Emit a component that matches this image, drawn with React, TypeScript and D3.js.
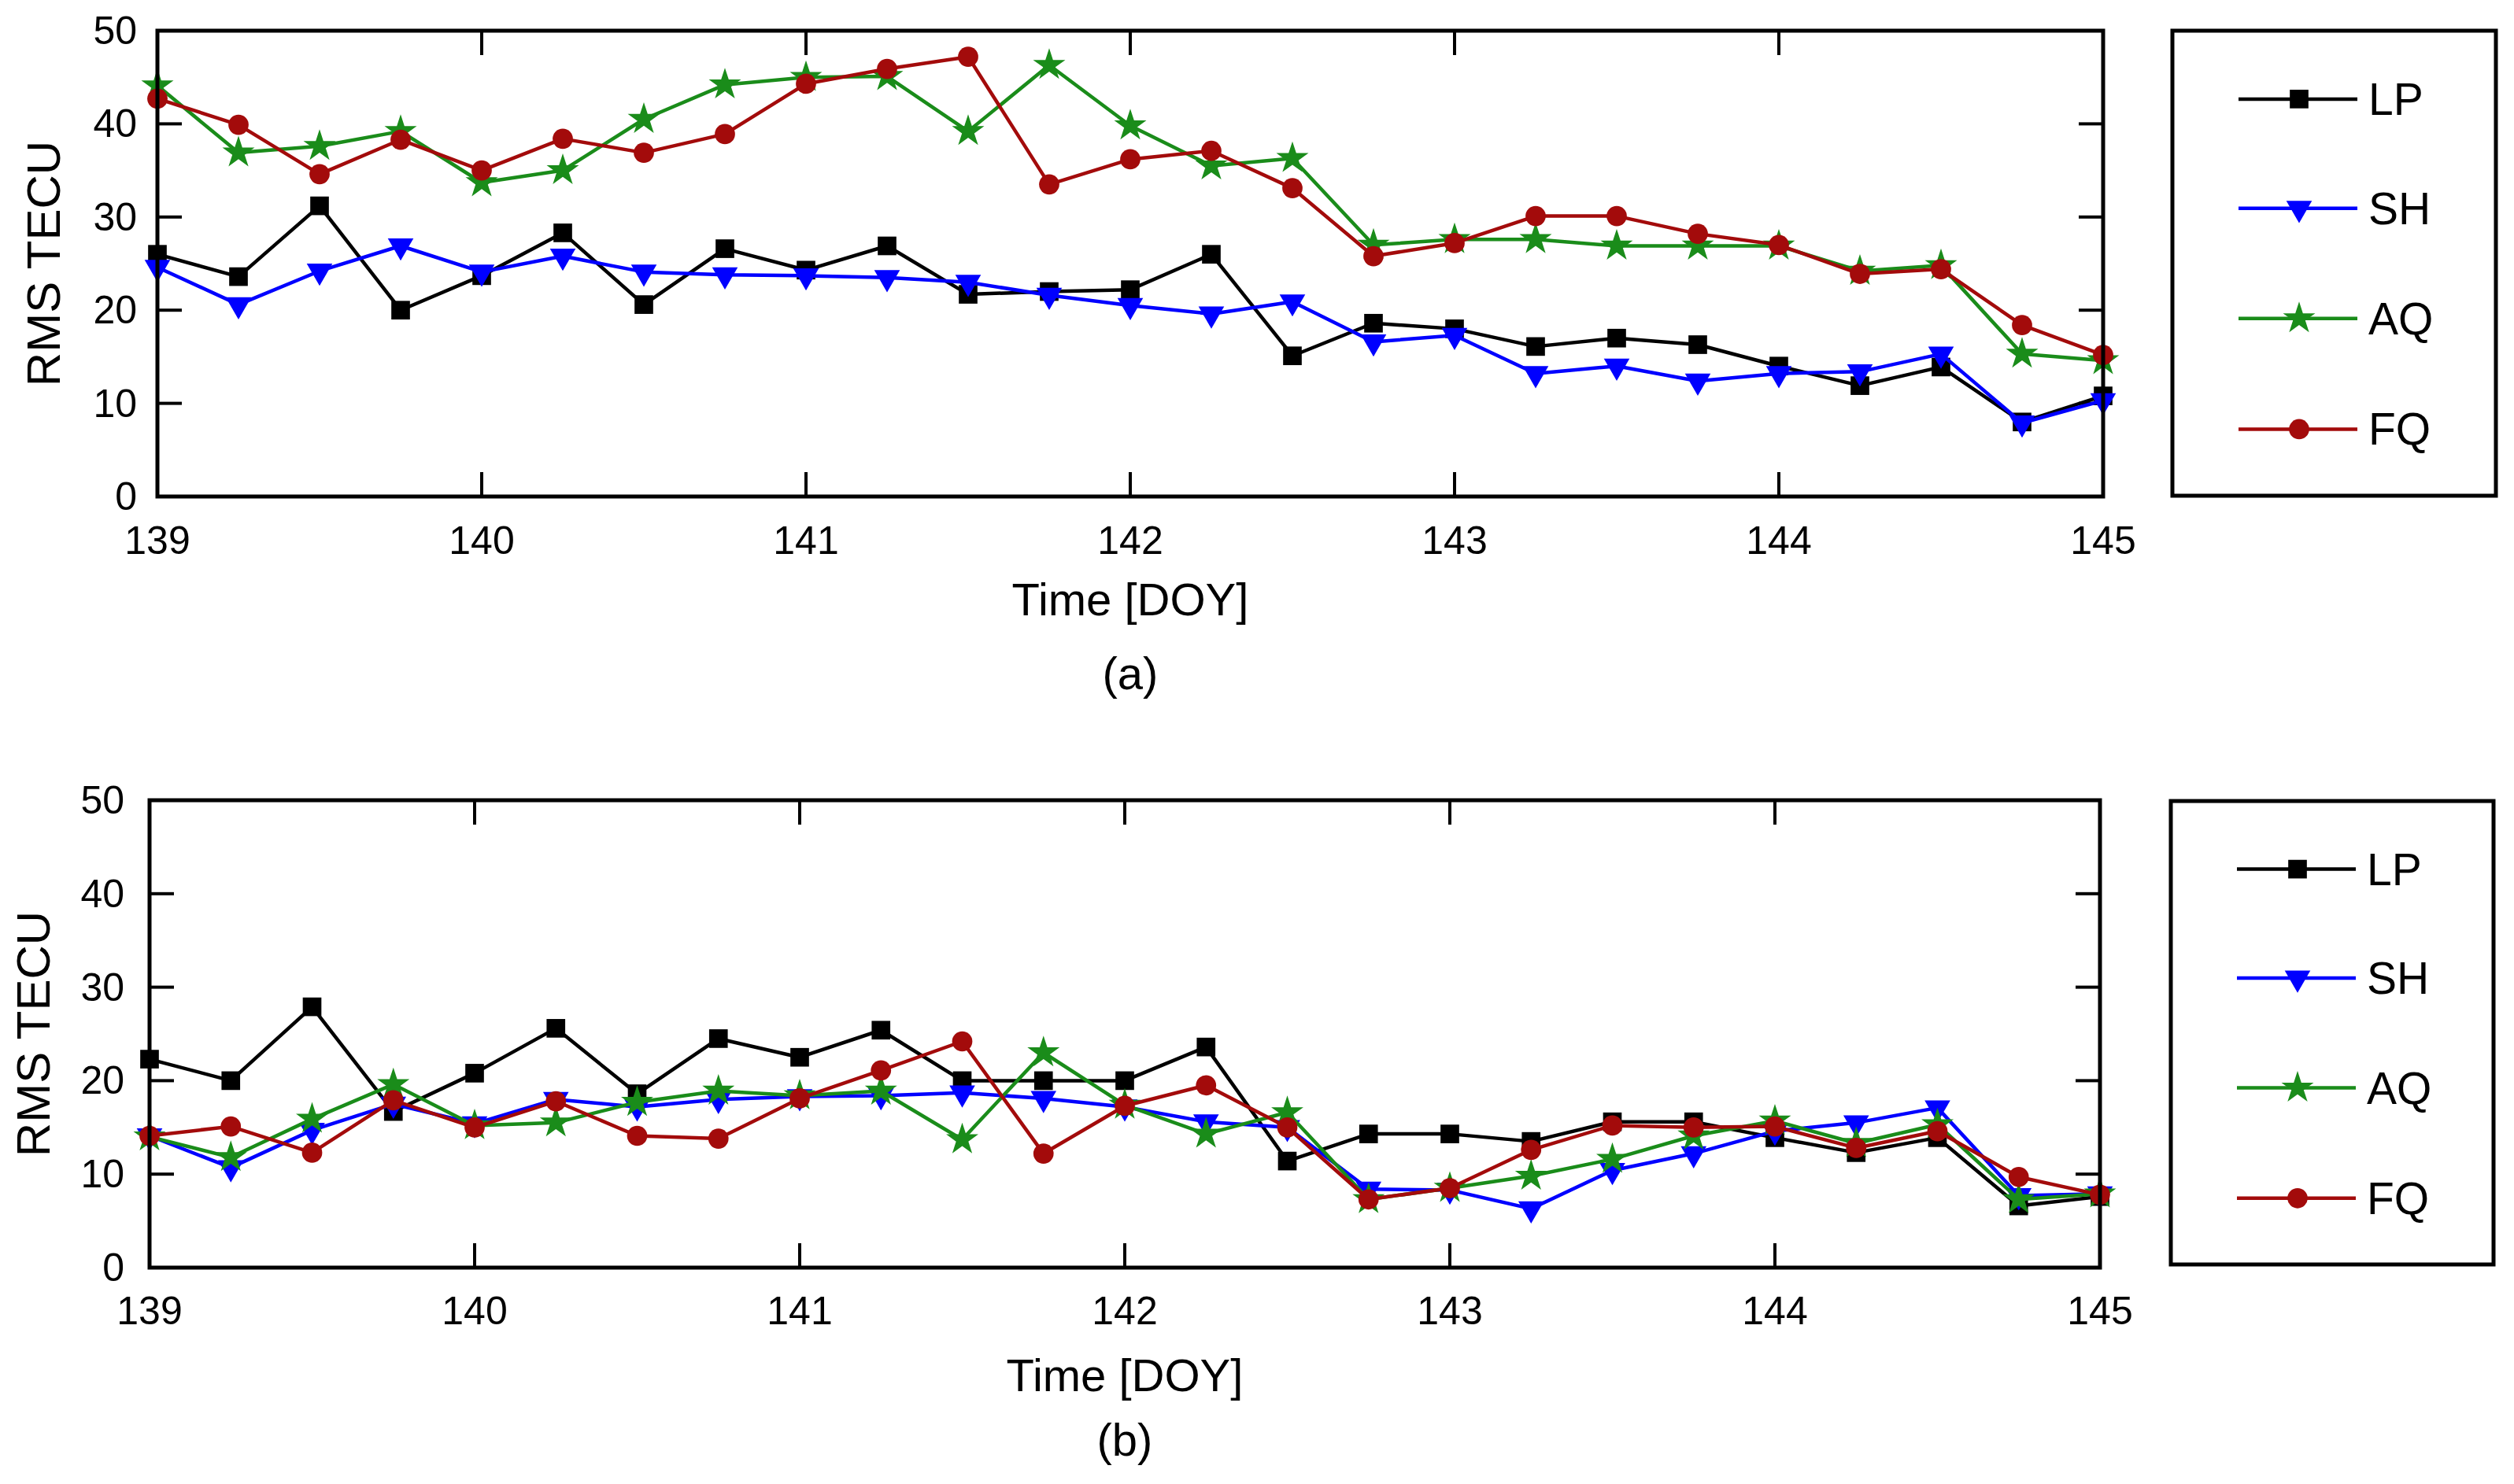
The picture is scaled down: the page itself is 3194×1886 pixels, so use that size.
import * as d3 from "d3";

// day of year, every 6 hours
const doy = [
  139, 139.25, 139.5, 139.75, 140, 140.25, 140.5, 140.75, 141, 141.25, 141.5, 141.75,
  142, 142.25, 142.5, 142.75, 143, 143.25, 143.5, 143.75, 144, 144.25, 144.5, 144.75, 145,
];
const xTicks = [139, 140, 141, 142, 143, 144, 145];
const yTicks = [0, 10, 20, 30, 40, 50];
const seriesNames = ["LP", "SH", "AQ", "FQ"];

// panel (a)
const lpA = [26.0, 23.6, 31.2, 20.0, 23.7, 28.3, 20.6, 26.6, 24.3, 26.9, 21.7, 22.0,
  22.2, 26.0, 15.1, 18.6, 18.0, 16.1, 17.0, 16.3, 14.0, 11.9, 13.9, 8.0, 10.8];
const shA = [24.6, 20.6, 24.2, 26.9, 24.1, 25.8, 24.1, 23.8, 23.7, 23.5, 23.0, 21.6,
  20.5, 19.6, 20.9, 16.6, 17.3, 13.2, 14.0, 12.4, 13.2, 13.4, 15.3, 7.9, 10.3];
const aqA = [44.1, 36.9, 37.6, 39.2, 33.7, 35.0, 40.5, 44.2, 45.0, 45.1, 39.2, 46.3,
  39.8, 35.5, 36.3, 27.0, 27.6, 27.6, 26.9, 26.9, 26.9, 24.2, 24.8, 15.3, 14.6];
const fqA = [42.7, 39.9, 34.6, 38.3, 35.0, 38.4, 36.9, 38.9, 44.3, 45.9, 47.2, 33.5,
  36.2, 37.1, 33.1, 25.8, 27.2, 30.1, 30.1, 28.2, 27.0, 23.9, 24.4, 18.4, 15.2];

// panel (b)
const lpB = [22.3, 20.0, 27.9, 16.7, 20.8, 25.6, 18.6, 24.5, 22.5, 25.4, 20.0, 20.0,
  20.0, 23.6, 11.4, 14.3, 14.3, 13.5, 15.6, 15.6, 13.9, 12.3, 13.9, 6.6, 7.6];
const shB = [14.1, 10.7, 14.7, 17.5, 15.4, 18.0, 17.2, 18.0, 18.3, 18.4, 18.7, 18.1,
  17.2, 15.6, 15.0, 8.4, 8.3, 6.3, 10.4, 12.2, 14.6, 15.5, 17.1, 7.7, 7.9];
const aqB = [14.0, 11.8, 15.9, 19.6, 15.2, 15.5, 17.7, 18.9, 18.4, 18.9, 13.7, 23.0,
  17.4, 14.3, 16.6, 7.3, 8.5, 9.8, 11.6, 14.1, 15.7, 13.3, 15.3, 7.3, 7.9];
const fqB = [14.1, 15.1, 12.3, 17.9, 15.0, 17.8, 14.1, 13.8, 18.1, 21.1, 24.2, 12.2,
  17.3, 19.5, 15.0, 7.3, 8.5, 12.6, 15.2, 15.0, 15.1, 12.8, 14.6, 9.7, 7.8];

const colors = ["#000000", "#0000ff", "#1a8c1a", "#a30b0b"];
const FONT = "'Liberation Sans', Arial, sans-serif";

const symbolFor = (i: number) => {
  if (i === 0) return d3.symbol(d3.symbolSquare, 560)();
  if (i === 1) return d3.symbol(d3.symbolTriangle, 460)();
  if (i === 2) return d3.symbol(d3.symbolStar, 520)();
  return d3.symbol(d3.symbolCircle, 520)();
};

type PanelProps = {
  series: number[][];
  left: number;
  right: number;
  top: number;
  bottom: number;
  legendX: [number, number];
  legendY: [number, number];
  ylabelX: number;
  yLabelGap: number;
  tickBase: number;
  titleBase: number;
  captionBase: number;
  caption: string;
};

function Panel(p: PanelProps) {
  const x = d3.scaleLinear().domain([139, 145]).range([p.left, p.right]);
  const y = d3.scaleLinear().domain([0, 50]).range([p.bottom, p.top]);
  const line = d3
    .line<number>()
    .x((_, i) => x(doy[i]))
    .y((d) => y(d));
  const tickLen = 31;
  const midX = (p.left + p.right) / 2;
  const midY = (p.top + p.bottom) / 2;
  const legH = p.legendY[1] - p.legendY[0];
  const legRows = [0.147, 0.382, 0.619, 0.857];

  return (
    <g fontFamily={FONT} fill="#000">
      {/* ticks */}
      {xTicks.slice(1, -1).map((t) => (
        <g key={"xt" + t} stroke="#000" strokeWidth={4}>
          <line x1={x(t)} x2={x(t)} y1={p.bottom} y2={p.bottom - tickLen} />
          <line x1={x(t)} x2={x(t)} y1={p.top} y2={p.top + tickLen} />
        </g>
      ))}
      {yTicks.slice(1, -1).map((t) => (
        <g key={"yt" + t} stroke="#000" strokeWidth={4}>
          <line x1={p.left} x2={p.left + tickLen} y1={y(t)} y2={y(t)} />
          <line x1={p.right} x2={p.right - tickLen} y1={y(t)} y2={y(t)} />
        </g>
      ))}
      {xTicks.map((t) => (
        <text key={"xl" + t} x={x(t)} y={p.tickBase} fontSize={50} textAnchor="middle">
          {t}
        </text>
      ))}
      {yTicks.map((t) => (
        <text
          key={"yl" + t}
          x={p.left - p.yLabelGap}
          y={y(t)}
          fontSize={50}
          textAnchor="end"
          dominantBaseline="central"
        >
          {t}
        </text>
      ))}
      <text x={midX} y={p.titleBase} fontSize={58} textAnchor="middle">
        Time [DOY]
      </text>
      <text x={midX} y={p.captionBase} fontSize={58} textAnchor="middle">
        {p.caption}
      </text>
      <text
        transform={`translate(${p.ylabelX},${midY}) rotate(-90)`}
        fontSize={60}
        textAnchor="middle"
        dominantBaseline="central"
      >
        RMS TECU
      </text>

      {/* series */}
      {p.series.map((vals, si) => (
        <g key={"s" + si}>
          <path d={line(vals) ?? ""} fill="none" stroke={colors[si]} strokeWidth={4.5} strokeLinejoin="round" />
          {vals.map((v, i) => (
            <path
              key={i}
              d={symbolFor(si) ?? ""}
              fill={colors[si]}
              transform={`translate(${x(doy[i])},${y(v)})${si === 1 ? " rotate(180)" : ""}`}
            />
          ))}
        </g>
      ))}

      {/* frame */}
      <rect
        x={p.left}
        y={p.top}
        width={p.right - p.left}
        height={p.bottom - p.top}
        fill="none"
        stroke="#000"
        strokeWidth={5}
      />

      {/* legend */}
      <rect
        x={p.legendX[0]}
        y={p.legendY[0]}
        width={p.legendX[1] - p.legendX[0]}
        height={legH}
        fill="none"
        stroke="#000"
        strokeWidth={5}
      />
      {seriesNames.map((name, si) => {
        const ly = p.legendY[0] + legRows[si] * legH;
        const lx = p.legendX[0];
        return (
          <g key={"lg" + name}>
            <line x1={lx + 84} x2={lx + 235} y1={ly} y2={ly} stroke={colors[si]} strokeWidth={4.5} />
            <path
              d={symbolFor(si) ?? ""}
              fill={colors[si]}
              transform={`translate(${lx + 161},${ly})${si === 1 ? " rotate(180)" : ""}`}
            />
            <text x={lx + 249} y={ly} fontSize={57} dominantBaseline="central">
              {name}
            </text>
          </g>
        );
      })}
    </g>
  );
}

export default function App() {
  return (
    <svg
      width={3194}
      height={1886}
      style={{ position: "absolute", left: 0, top: 0, background: "#fff" }}
    >
      <rect width={3194} height={1886} fill="#fff" />
      <Panel
        series={[lpA, shA, aqA, fqA]}
        left={200}
        right={2672}
        top={39}
        bottom={631}
        legendX={[2760, 3171]}
        legendY={[39, 630]}
        ylabelX={55}
        yLabelGap={26}
        tickBase={704}
        titleBase={782}
        captionBase={876}
        caption="(a)"
      />
      <Panel
        series={[lpB, shB, aqB, fqB]}
        left={190}
        right={2668}
        top={1017}
        bottom={1611}
        legendX={[2758, 3168]}
        legendY={[1018, 1607]}
        ylabelX={42}
        yLabelGap={32}
        tickBase={1683}
        titleBase={1768}
        captionBase={1850}
        caption="(b)"
      />
    </svg>
  );
}
